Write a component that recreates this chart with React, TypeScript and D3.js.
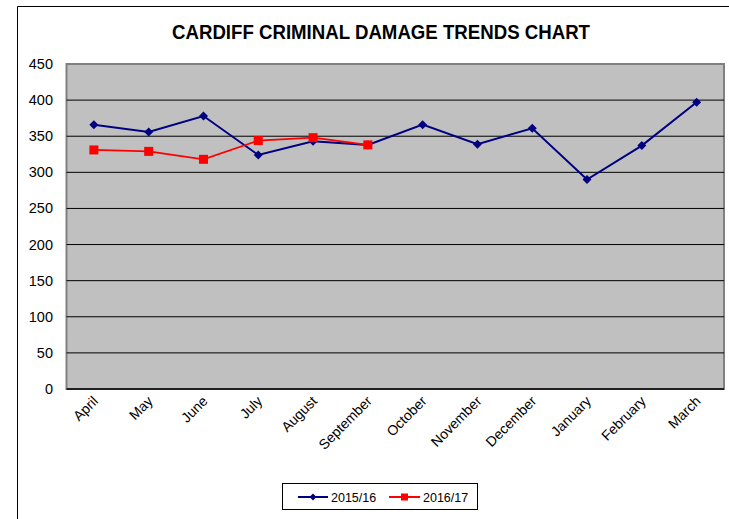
import React from "react";
import * as d3 from "d3";

const months = ["April","May","June","July","August","September","October","November","December","January","February","March"];
const series2015 = [366, 356, 378, 324, 343, 338, 366, 339, 361, 290, 337, 397];
const series2016 = [331, 329, 318, 344, 348, 338];
const yTicks = [0, 50, 100, 150, 200, 250, 300, 350, 400, 450];
const title = "CARDIFF CRIMINAL DAMAGE TRENDS CHART";
const legendLabels = ["2015/16", "2016/17"];

export default function App() {
  const W = 729, H = 519;
  const left = 66.5, right = 724, top = 64, bottom = 389;
  const x = d3.scaleBand<string>().domain(months).range([left, right]);
  const y = d3.scaleLinear().domain([0, 450]).range([bottom, top]);
  const cx = (m: string) => (x(m) as number) + x.bandwidth() / 2;
  const line = d3.line<number>().x((_, i) => cx(months[i])).y(d => y(d));
  const font = "Arial, 'Liberation Sans', sans-serif";
  const diamond = (px: number, py: number, s = 4.5) =>
    `M${px},${py - s}L${px + s},${py}L${px},${py + s}L${px - s},${py}Z`;
  return (
    <svg width={W} height={H} style={{ position: "absolute", left: 0, top: 0, background: "#fff" }}>
      <rect x={0} y={0} width={W} height={H} fill="#fff" />
      <path d={`M17.5,${H}V6.5H${W}`} fill="none" stroke="#000" strokeWidth={1} />
      <text x={172} y={39} textLength={418} lengthAdjust="spacingAndGlyphs" fontFamily="'Liberation Sans Narrow', 'Arial Narrow', Arial, sans-serif" fontWeight="bold" fontSize={20}>{title}</text>
      <rect x={left} y={top} width={right - left} height={bottom - top} fill="#C0C0C0" stroke="#808080" strokeWidth={2} />
      {yTicks.filter(t => t > 0 && t < 450).map(t => (
        <line key={t} x1={left} x2={right} y1={y(t)} y2={y(t)} stroke="#000" strokeWidth={1} />
      ))}
      <line x1={left} x2={right} y1={bottom} y2={bottom} stroke="#000" strokeWidth={1.5} />
      {yTicks.map(t => (
        <text key={t} x={53} y={y(t) + 5} textAnchor="end" fontFamily={font} fontSize={14.5}>{t}</text>
      ))}
      {months.map(m => (
        <text key={m} transform={`translate(${cx(m) + 5},${bottom + 13}) rotate(-45)`} textAnchor="end" fontFamily={font} fontSize={14}>{m}</text>
      ))}
      <path d={line(series2015) || ""} fill="none" stroke="#000080" strokeWidth={2} />
      {series2015.map((v, i) => (
        <path key={i} d={diamond(cx(months[i]), y(v))} fill="#000080" />
      ))}
      <path d={line(series2016) || ""} fill="none" stroke="#FF0000" strokeWidth={1.8} />
      {series2016.map((v, i) => (
        <rect key={i} x={cx(months[i]) - 4.5} y={y(v) - 4.5} width={9} height={9} fill="#FF0000" />
      ))}
      <rect x={282.5} y={483.5} width={195} height={26} fill="#fff" stroke="#000" strokeWidth={1} />
      <line x1={298} x2={328} y1={497} y2={497} stroke="#000080" strokeWidth={2} />
      <path d={diamond(313, 497, 3.5)} fill="#000080" />
      <text x={331} y={501.5} fontFamily={font} fontSize={12.5}>{legendLabels[0]}</text>
      <line x1={389} x2={420} y1={497} y2={497} stroke="#FF0000" strokeWidth={2} />
      <rect x={401} y={493.5} width={7} height={7} fill="#FF0000" />
      <text x={423} y={501.5} fontFamily={font} fontSize={12.5}>{legendLabels[1]}</text>
    </svg>
  );
}
